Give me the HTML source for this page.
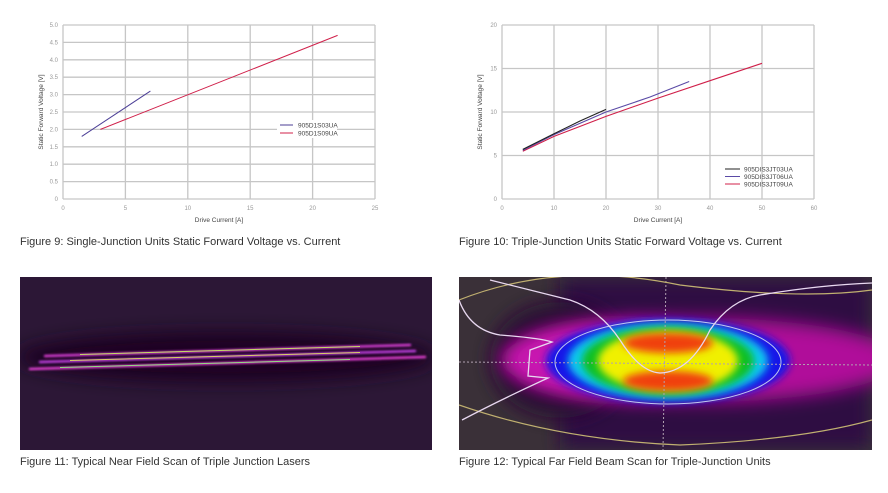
<!DOCTYPE html>
<html><head><meta charset="utf-8"><style>
html,body{margin:0;padding:0;background:#fff;width:888px;height:493px;overflow:hidden}
svg{display:block}
text{font-family:"Liberation Sans",sans-serif}
</style></head><body>
<svg width="888" height="493" viewBox="0 0 888 493" xmlns="http://www.w3.org/2000/svg">
<defs>
<filter id="b4" x="-50%" y="-50%" width="200%" height="200%"><feGaussianBlur stdDeviation="4"/></filter>
<filter id="b8" x="-50%" y="-50%" width="200%" height="200%"><feGaussianBlur stdDeviation="9"/></filter>
<filter id="b1"><feGaussianBlur stdDeviation="1"/></filter>
<clipPath id="c1"><rect x="20" y="277" width="412" height="173"/></clipPath>
<clipPath id="c2"><rect x="459" y="277" width="413" height="173"/></clipPath>
</defs>

<!-- Chart 1 -->
<g stroke="#c6c6c6" stroke-width="1.3">
<line x1="63" y1="25" x2="375" y2="25"/><line x1="63" y1="42.4" x2="375" y2="42.4"/><line x1="63" y1="59.8" x2="375" y2="59.8"/><line x1="63" y1="77.2" x2="375" y2="77.2"/><line x1="63" y1="94.6" x2="375" y2="94.6"/><line x1="63" y1="112" x2="375" y2="112"/><line x1="63" y1="129.4" x2="375" y2="129.4"/><line x1="63" y1="146.8" x2="375" y2="146.8"/><line x1="63" y1="164.2" x2="375" y2="164.2"/><line x1="63" y1="181.6" x2="375" y2="181.6"/><line x1="63" y1="199" x2="375" y2="199"/>
<line x1="63" y1="25" x2="63" y2="199"/><line x1="125.4" y1="25" x2="125.4" y2="199"/><line x1="187.8" y1="25" x2="187.8" y2="199"/><line x1="250.2" y1="25" x2="250.2" y2="199"/><line x1="312.6" y1="25" x2="312.6" y2="199"/><line x1="375" y1="25" x2="375" y2="199"/>
</g>
<g font-size="6" fill="#999" text-anchor="end">
<text x="58" y="27">5.0</text><text x="58" y="44.4">4.5</text><text x="58" y="61.8">4.0</text><text x="58" y="79.2">3.5</text><text x="58" y="96.6">3.0</text><text x="58" y="114">2.5</text><text x="58" y="131.4">2.0</text><text x="58" y="148.8">1.5</text><text x="58" y="166.2">1.0</text><text x="58" y="183.6">0.5</text><text x="58" y="201">0</text>
</g>
<g font-size="6" fill="#999" text-anchor="middle">
<text x="63" y="210">0</text><text x="125.4" y="210">5</text><text x="187.8" y="210">10</text><text x="250.2" y="210">15</text><text x="312.6" y="210">20</text><text x="375" y="210">25</text>
</g>
<text x="219" y="222" font-size="6.5" fill="#444" text-anchor="middle">Drive Current [A]</text>
<text transform="translate(43,112) rotate(-90)" font-size="6.5" fill="#444" text-anchor="middle">Static Forward Voltage [V]</text>
<line x1="81.7" y1="136.4" x2="150.4" y2="91.1" stroke="#4b3e96" stroke-width="1"/>
<line x1="100.4" y1="129.4" x2="337.6" y2="35.4" stroke="#d0204a" stroke-width="1"/>
<rect x="277" y="120" width="60" height="18" fill="#fff"/>
<line x1="280" y1="125" x2="293" y2="125" stroke="#4b3e96" stroke-width="1"/>
<line x1="280" y1="133" x2="293" y2="133" stroke="#d0204a" stroke-width="1"/>
<text x="298" y="127.3" font-size="6.5" fill="#444">905D1S03UA</text>
<text x="298" y="135.3" font-size="6.5" fill="#444">905D1S09UA</text>
<text x="20" y="245" font-size="11" fill="#333">Figure 9: Single-Junction Units Static Forward Voltage vs. Current</text>

<!-- Chart 2 -->
<g stroke="#c6c6c6" stroke-width="1.3">
<line x1="502" y1="25" x2="814" y2="25"/><line x1="502" y1="68.5" x2="814" y2="68.5"/><line x1="502" y1="112" x2="814" y2="112"/><line x1="502" y1="155.5" x2="814" y2="155.5"/><line x1="502" y1="199" x2="814" y2="199"/>
<line x1="502" y1="25" x2="502" y2="199"/><line x1="554" y1="25" x2="554" y2="199"/><line x1="606" y1="25" x2="606" y2="199"/><line x1="658" y1="25" x2="658" y2="199"/><line x1="710" y1="25" x2="710" y2="199"/><line x1="762" y1="25" x2="762" y2="199"/><line x1="814" y1="25" x2="814" y2="199"/>
</g>
<g font-size="6" fill="#999" text-anchor="end">
<text x="497" y="27">20</text><text x="497" y="70.5">15</text><text x="497" y="114">10</text><text x="497" y="157.5">5</text><text x="497" y="201">0</text>
</g>
<g font-size="6" fill="#999" text-anchor="middle">
<text x="502" y="210">0</text><text x="554" y="210">10</text><text x="606" y="210">20</text><text x="658" y="210">30</text><text x="710" y="210">40</text><text x="762" y="210">50</text><text x="814" y="210">60</text>
</g>
<text x="658" y="222" font-size="6.5" fill="#444" text-anchor="middle">Drive Current [A]</text>
<text transform="translate(482,112) rotate(-90)" font-size="6.5" fill="#444" text-anchor="middle">Static Forward Voltage [V]</text>
<polyline points="522.8,151.2 554,136.4 606,116.4 658,98.1 710,80.7 762,63.3" fill="none" stroke="#d0204a" stroke-width="1.1"/>
<polyline points="522.8,150.3 554,134.6 606,112 650,97 689.2,81.5" fill="none" stroke="#5a4aa6" stroke-width="1.1"/>
<polyline points="522.8,149.4 554,133.8 580,121 606,109.4" fill="none" stroke="#222" stroke-width="1.1"/>
<line x1="725" y1="169" x2="740" y2="169" stroke="#222" stroke-width="1"/>
<line x1="725" y1="176.5" x2="740" y2="176.5" stroke="#5a4aa6" stroke-width="1"/>
<line x1="725" y1="184" x2="740" y2="184" stroke="#d0204a" stroke-width="1"/>
<text x="744" y="171.3" font-size="6.5" fill="#444">905DIS3JT03UA</text>
<text x="744" y="178.8" font-size="6.5" fill="#444">905DIS3JT06UA</text>
<text x="744" y="186.3" font-size="6.5" fill="#444">905DIS3JT09UA</text>
<text x="459" y="245" font-size="11" fill="#333">Figure 10: Triple-Junction Units Static Forward Voltage vs. Current</text>

<!-- Near field -->
<g clip-path="url(#c1)">
<rect x="20" y="277" width="412" height="173" fill="#2c1736"/>
<ellipse cx="226" cy="357" rx="210" ry="25" fill="#1c0322" filter="url(#b8)"/>
<g filter="url(#b1)" stroke-width="2.5" stroke-linecap="round">
<line x1="45" y1="356" x2="410" y2="345" stroke="#d23cd0"/>
<line x1="40" y1="362" x2="415" y2="351" stroke="#c040e0"/>
<line x1="30" y1="369" x2="425" y2="357" stroke="#e040d0"/>
</g>
<g stroke-width="1" opacity="0.9">
<line x1="80" y1="354.5" x2="360" y2="346.5" stroke="#c8f060"/>
<line x1="70" y1="360.5" x2="360" y2="352.5" stroke="#e0e060"/>
<line x1="60" y1="367.5" x2="350" y2="359.5" stroke="#90f080"/>
</g>
</g>
<text x="20" y="465" font-size="11" fill="#333">Figure 11: Typical Near Field Scan of Triple Junction Lasers</text>

<!-- Far field -->
<g clip-path="url(#c2)">
<rect x="459" y="277" width="413" height="173" fill="#3a3038"/>
<rect x="560" y="277" width="312" height="173" fill="#2e0c42" filter="url(#b8)"/>
<ellipse cx="560" cy="360" rx="70" ry="58" fill="#2a0a36" filter="url(#b8)"/>
<ellipse cx="700" cy="360" rx="200" ry="42" fill="#b0109a" filter="url(#b8)"/>
<ellipse cx="620" cy="360" rx="110" ry="38" fill="#c818b0" filter="url(#b8)"/>
<ellipse cx="668" cy="361" rx="122" ry="42" fill="#1818e8" filter="url(#b4)"/>
<ellipse cx="668" cy="361" rx="100" ry="38" fill="#10c8f0" filter="url(#b4)"/>
<ellipse cx="668" cy="361" rx="86" ry="34" fill="#10c020" filter="url(#b4)"/>
<ellipse cx="668" cy="361" rx="70" ry="30" fill="#f0f000" filter="url(#b4)"/>
<ellipse cx="668" cy="343" rx="45" ry="10" fill="#f04010" filter="url(#b4)"/>
<ellipse cx="668" cy="381" rx="45" ry="10" fill="#f04010" filter="url(#b4)"/>
<ellipse cx="668" cy="362" rx="113" ry="42" fill="none" stroke="#c0c8f0" stroke-width="1"/>
<line x1="459" y1="362" x2="872" y2="365" stroke="#b0a0b0" stroke-width="1" stroke-dasharray="2,2"/>
<line x1="666" y1="277" x2="663" y2="450" stroke="#b0a0b0" stroke-width="1" stroke-dasharray="2,2"/>
<path d="M459,300 Q560,260 680,285 Q800,300 872,290" fill="none" stroke="#c0b070" stroke-width="1.2"/>
<path d="M459,405 Q560,440 680,445 Q800,440 872,420" fill="none" stroke="#c0b070" stroke-width="1.2"/>
<path d="M490,280 Q530,290 570,300 Q600,310 620,340 Q640,372 660,373 Q690,372 710,330 Q730,300 760,295 Q820,285 872,283" fill="none" stroke="#e8d8f0" stroke-width="1.3"/>
<path d="M459,300 Q470,330 500,335 Q540,338 552,342 L530,350 L528,376 L548,378 Q500,400 462,420" fill="none" stroke="#e8d8f0" stroke-width="1.3"/>
</g>
<text x="459" y="465" font-size="11" fill="#333">Figure 12: Typical Far Field Beam Scan for Triple-Junction Units</text>
</svg>
</body></html>
